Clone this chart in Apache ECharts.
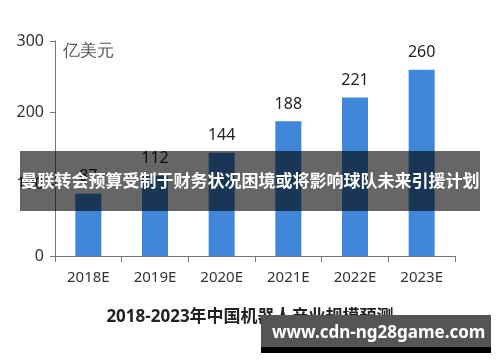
<!DOCTYPE html>
<html><head><meta charset="utf-8">
<script src="https://cdn.jsdelivr.net/npm/echarts@6/dist/echarts.min.js"></script>
<style>html,body{margin:0;padding:0;background:#fff}#c{width:500px;height:362px}</style>
</head><body><div id="c"></div>
<script>
const categories = ['2018E','2019E','2020E','2021E','2022E','2023E'];
const values = [87, 112, 144, 188, 221, 260];
const yTicks = [0, 100, 200, 300];
const unitLabel = '亿美元';
const chartTitle = '2018-2023年中国机器人产业规模预测';
const bannerText = '曼联转会预算受制于财务状况困境或将影响球队未来引援计划';
const siteText = 'www.cdn-ng28game.com';

const FONT = "'Noto Sans','Noto Sans CJK SC',sans-serif";
const chart = echarts.init(document.getElementById('c'), null, {renderer:'canvas'});
chart.setOption({
  animation: false,
  backgroundColor: '#fff',
  textStyle: {fontFamily: FONT},
  grid: {left: 55, right: 45, top: 41, bottom: 106, containLabel: false},
  title: {
    text: chartTitle, left: 'center', top: 304,
    textStyle: {fontSize: 17, fontWeight: 'bold', color: '#222', fontFamily: FONT}
  },
  xAxis: {
    type: 'category', data: categories,
    axisLine: {lineStyle: {color: '#777', width: 1}},
    axisTick: {show: true, length: 6, lineStyle: {color: '#777'}},
    axisLabel: {fontSize: 15, color: '#333', margin: 14, fontFamily: FONT}
  },
  yAxis: {
    type: 'value', min: yTicks[0], max: yTicks[yTicks.length-1], interval: 100,
    axisLine: {show: true, lineStyle: {color: '#777', width: 1}},
    axisTick: {show: true, length: 5, lineStyle: {color: '#777'}},
    splitLine: {show: false},
    axisLabel: {fontSize: 16, color: '#333', margin: 11, fontFamily: FONT}
  },
  series: [{
    type: 'bar', data: values, barWidth: '39%',
    itemStyle: {color: '#4087d9'},
    label: {show: true, position: 'top', distance: 9, fontSize: 16, color: '#222', fontFamily: FONT}
  }],
  graphic: [
    {type: 'text', left: 63, top: 43, z: 50,
     style: {text: unitLabel, fontSize: 17, fill: '#555', font: "17px 'Noto Sans CJK SC',sans-serif"}},
    {type: 'rect', left: 20, top: 151, z: 100,
     shape: {width: 460, height: 60}, style: {fill: 'rgba(0,0,0,0.6)'}},
    {type: 'text', left: 'center', top: 172, z: 101,
     style: {text: bannerText, fill: '#fff', font: "bold 17px 'Noto Sans CJK SC',sans-serif"}},
    {type: 'rect', left: 261, top: 315, z: 100,
     shape: {width: 230, height: 38}, style: {fill: '#555'}},
    {type: 'rect', left: 261, top: 347, z: 100,
     shape: {width: 230, height: 6}, style: {fill: '#000'}},
    {type: 'text', left: 272, top: 325, z: 101,
     style: {text: siteText, fill: '#fff', font: "bold 17px 'Noto Sans','DejaVu Sans',sans-serif"}}
  ]
});
</script></body></html>
